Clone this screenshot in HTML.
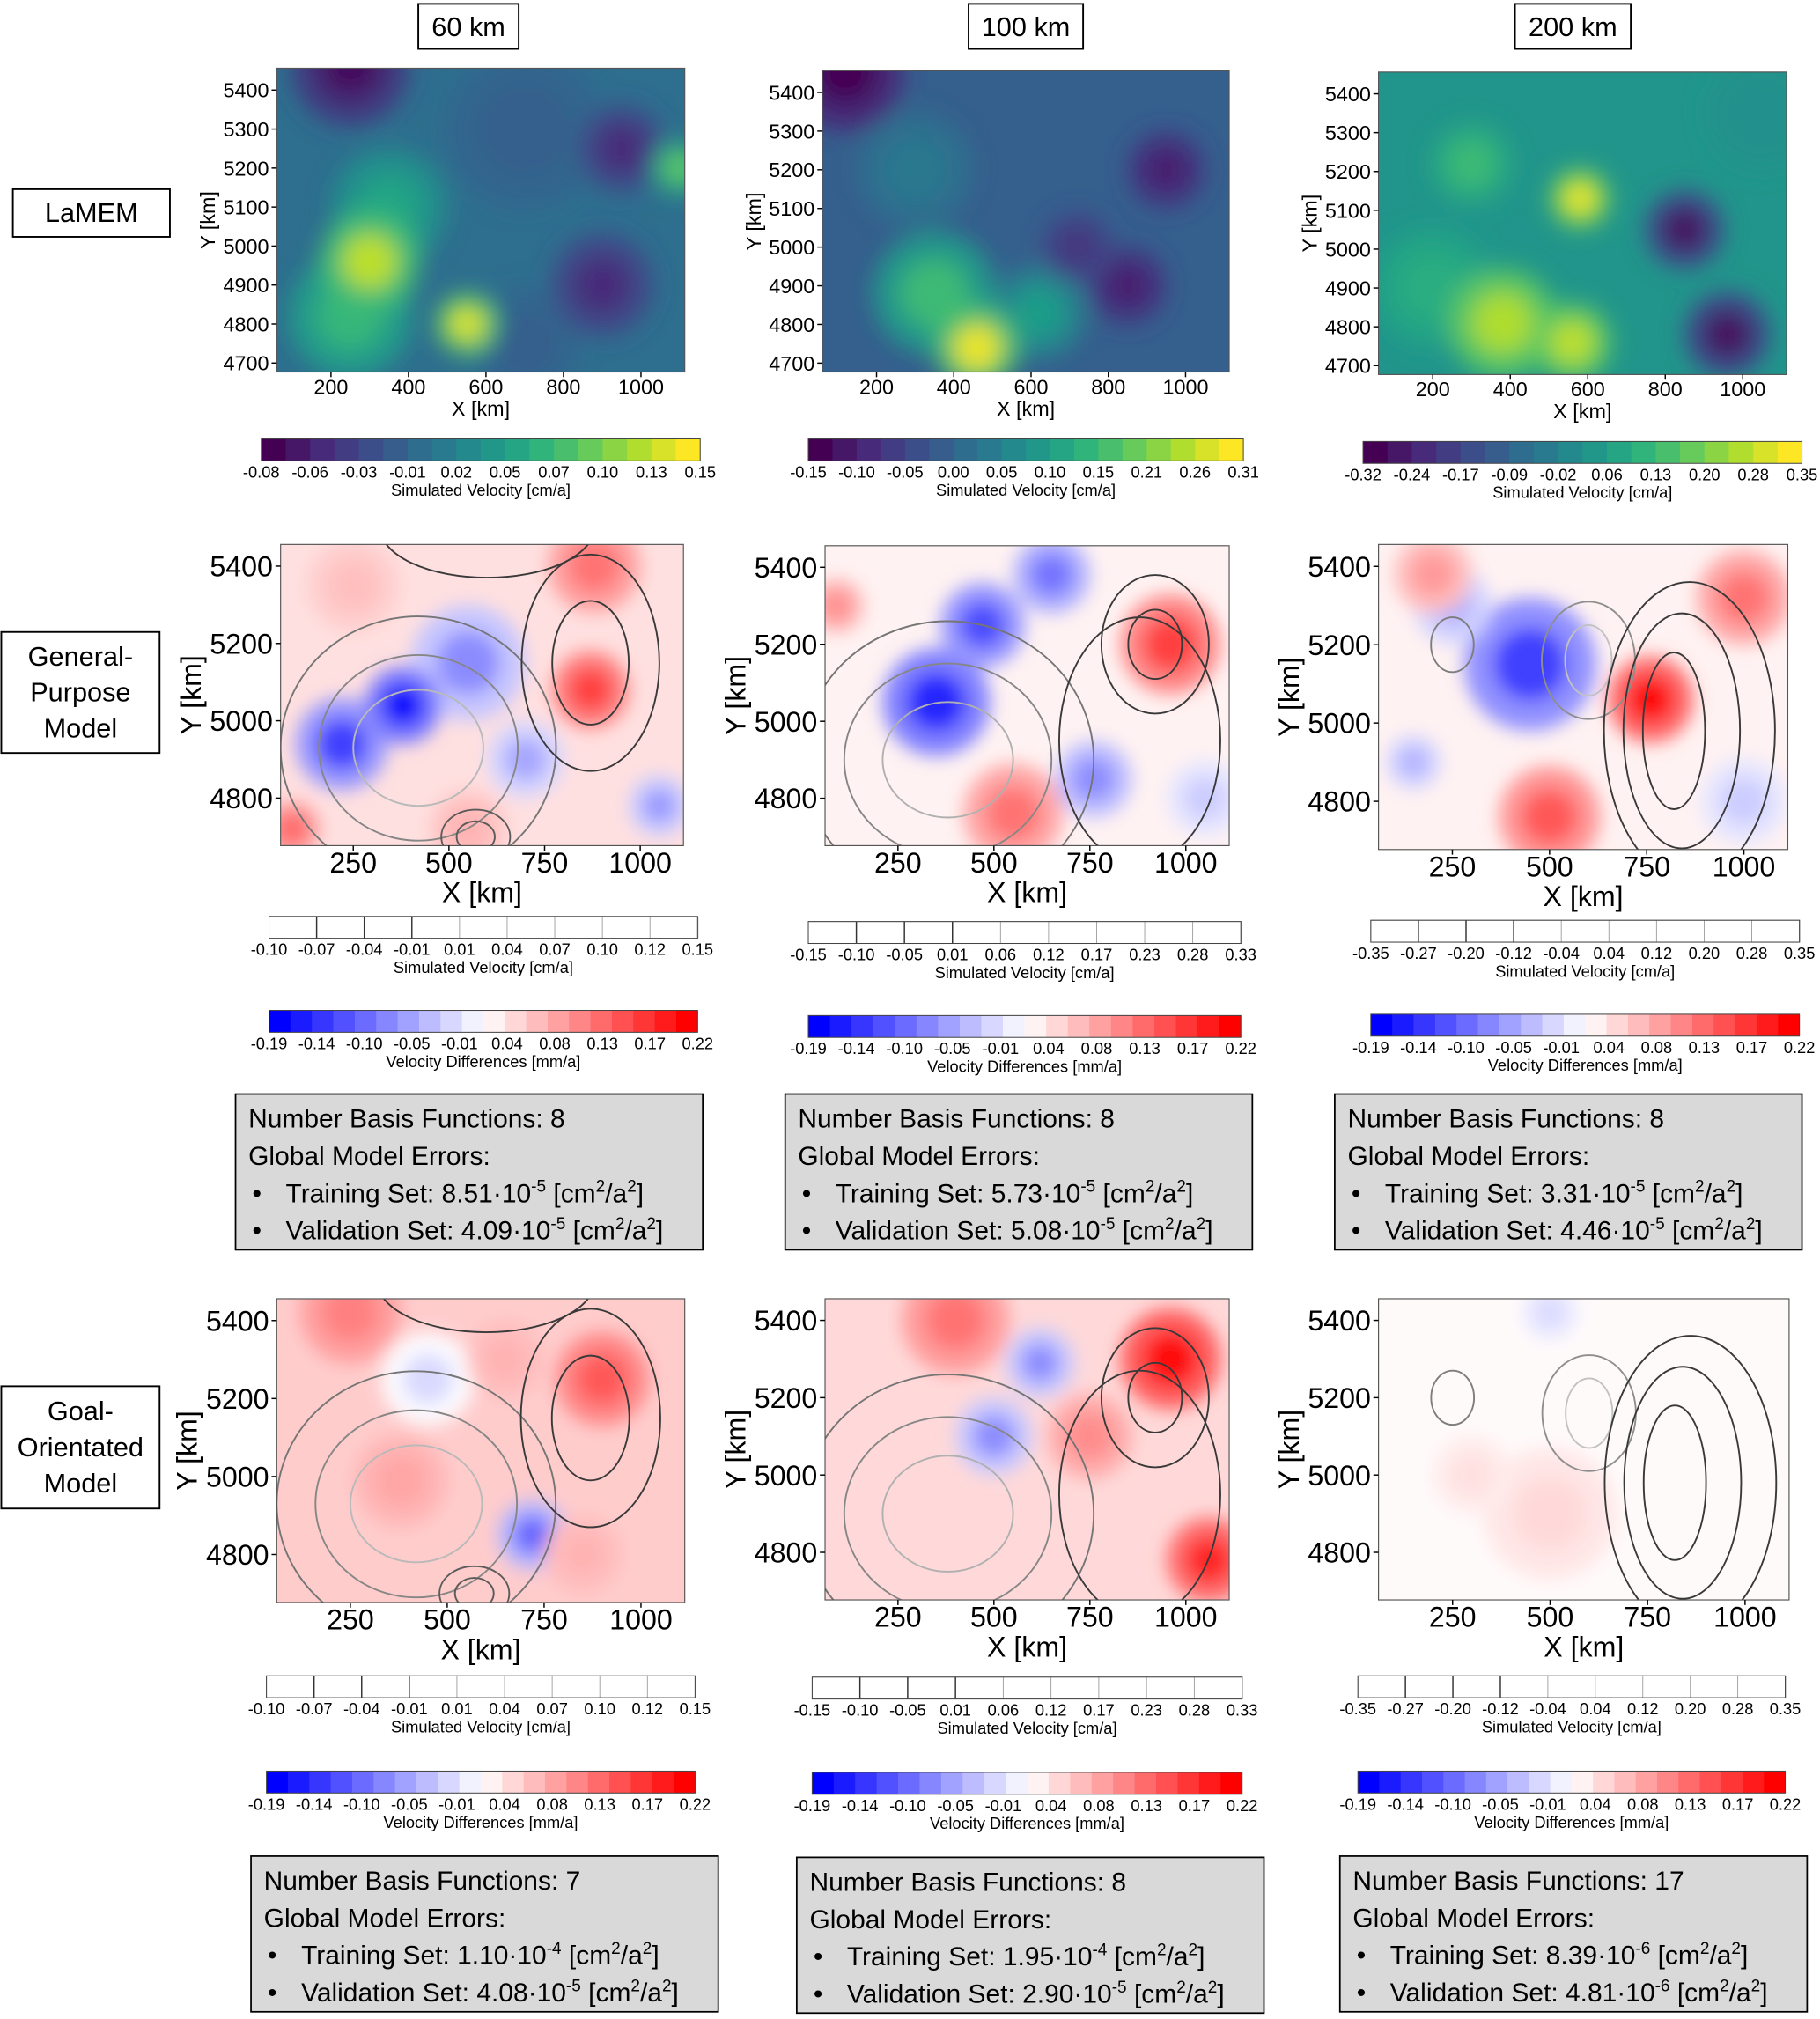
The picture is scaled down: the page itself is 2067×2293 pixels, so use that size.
<!DOCTYPE html>
<html><head><meta charset="utf-8"><style>
html,body{margin:0;padding:0;background:#fff}
svg{display:block;font-family:"Liberation Sans","DejaVu Sans",sans-serif}
</style></head><body>
<svg id="fig" xmlns="http://www.w3.org/2000/svg" width="2067" height="2293" viewBox="0 0 1414 1568.6">
<defs>
<filter id="blur1" x="-20%" y="-20%" width="140%" height="140%"><feGaussianBlur stdDeviation="9"/></filter>
<filter id="blur2" x="-20%" y="-20%" width="140%" height="140%"><feGaussianBlur stdDeviation="7"/></filter>
</defs>
<rect width="1414" height="1568.6" fill="#fff"/>
</svg>
<script>
// ---------- data ----------
const colTitles = ["60 km","100 km","200 km"];
const rowLabels = [["LaMEM"],["General-","Purpose","Model"],["Goal-","Orientated","Model"]];
const xTicksSmall = [200,400,600,800,1000];
const yTicksSmall = [4700,4800,4900,5000,5100,5200,5300,5400];
const xTicksBig = [250,500,750,1000];
const yTicksBig = [4800,5000,5200,5400];
const simLabels = [
 ["-0.08","-0.06","-0.03","-0.01","0.02","0.05","0.07","0.10","0.13","0.15"],
 ["-0.15","-0.10","-0.05","0.00","0.05","0.10","0.15","0.21","0.26","0.31"],
 ["-0.32","-0.24","-0.17","-0.09","-0.02","0.06","0.13","0.20","0.28","0.35"]];
const simLabels2 = [
 ["-0.10","-0.07","-0.04","-0.01","0.01","0.04","0.07","0.10","0.12","0.15"],
 ["-0.15","-0.10","-0.05","0.01","0.06","0.12","0.17","0.23","0.28","0.33"],
 ["-0.35","-0.27","-0.20","-0.12","-0.04","0.04","0.12","0.20","0.28","0.35"]];
const diffLabels = ["-0.19","-0.14","-0.10","-0.05","-0.01","0.04","0.08","0.13","0.17","0.22"];
const nBasis = [[8,8,8],[7,8,17]];
const trainErr = [["8.51","-5"],["5.73","-5"],["3.31","-5"],["1.10","-4"],["1.95","-4"],["8.39","-6"]];
const validErr = [["4.09","-5"],["5.08","-5"],["4.46","-5"],["4.08","-5"],["2.90","-5"],["4.81","-6"]];
// field blobs: [x km, y km, radius km, value]
const lamemBase = [0.36,0.3,0.52];
const lamemBlobs = [
 [[700,5300,200,0.3],[700,4750,140,0.3],[250,4820,160,0.66],[350,5100,150,0.58],[300,4960,130,0.9],[550,4800,80,0.95],[900,4900,130,0.12],[950,5250,110,0.12],[250,5460,150,0.03],[1100,5200,70,0.75]],
 [[300,5200,150,0.4],[350,4880,160,0.68],[620,4830,120,0.55],[460,4740,110,0.97],[950,5200,100,0.08],[850,4900,100,0.08],[120,5450,150,0.0],[720,5000,90,0.15]],
 [[200,4900,150,0.62],[1050,5350,140,0.5],[300,5220,100,0.68],[380,4810,140,0.88],[560,4760,100,0.9],[580,5130,75,0.97],[850,5050,100,0.03],[960,4780,110,0.03]]];
const diffBase = [0.12,0.05,0.05,0.2,0.15,0.02];
const diffBlobs = [
 [[550,5150,150,-0.45],[250,5350,120,0.25],[550,4720,100,0.3],[220,4940,120,-0.75],[380,5040,100,-0.95],[870,5080,100,0.75],[880,5400,120,0.55],[90,4720,70,0.6],[700,4900,100,-0.35],[1050,4780,80,-0.4]],
 [[350,5050,140,-0.85],[470,5250,110,-0.7],[650,5380,100,-0.55],[960,5200,130,0.75],[550,4760,130,0.55],[90,5300,70,0.45],[760,4850,100,-0.45],[1050,4800,100,-0.2]],
 [[450,5150,170,-0.75],[250,5300,100,-0.3],[760,5060,110,0.95],[1000,5320,120,0.55],[500,4760,130,0.65],[200,5380,100,0.4],[1000,4800,110,-0.2],[150,4900,70,-0.3]],
 [[450,5250,120,-0.15],[380,4990,120,0.35],[900,5250,120,0.65],[250,5420,130,0.5],[720,4850,90,-0.6],[850,4800,100,0.3],[650,5300,100,0.3]],
 [[300,4780,140,0.15],[750,5100,110,0.45],[960,5300,130,0.95],[1060,4780,110,0.85],[400,5400,140,0.55],[500,5100,100,-0.45],[620,5290,90,-0.45]],
 [[500,4900,170,0.15],[500,5420,70,-0.15],[300,5000,100,0.12]]];
// contour rings: [x km, y km, rx km, ry km, shade 0=black 1=light]
const contours = [
 [[420,4930,170,150,0.85],[420,4930,260,240,0.55],[420,4930,360,340,0.45],[600,5500,280,130,0.1],[870,5150,100,160,0.1],[870,5150,180,280,0.1],[570,4700,50,40,0.3],[570,4700,90,70,0.3]],
 [[380,4900,170,150,0.8],[380,4900,270,250,0.55],[380,4900,380,360,0.45],[920,5200,70,90,0.1],[920,5200,140,180,0.1],[880,4950,210,320,0.1]],
 [[600,5160,60,90,0.9],[600,5160,120,150,0.6],[250,5200,55,70,0.5],[820,4980,80,200,0.1],[840,4980,150,300,0.1],[860,4980,220,380,0.1]],
 [[420,4930,170,150,0.85],[420,4930,260,240,0.55],[420,4930,360,340,0.45],[600,5500,280,130,0.1],[870,5150,100,160,0.1],[870,5150,180,280,0.1],[570,4700,50,40,0.3],[570,4700,90,70,0.3]],
 [[380,4900,170,150,0.8],[380,4900,270,250,0.55],[380,4900,380,360,0.45],[920,5200,70,90,0.1],[920,5200,140,180,0.1],[880,4950,210,320,0.1]],
 [[600,5160,60,90,0.9],[600,5160,120,150,0.6],[250,5200,55,70,0.5],[820,4980,80,200,0.1],[840,4980,150,300,0.1],[860,4980,220,380,0.1]]];

// ---------- layout ----------
const svg = document.getElementById('fig');
const NS = "http://www.w3.org/2000/svg";
function mk(tag, attrs, parent){const e=document.createElementNS(NS,tag);for(const k in attrs)e.setAttribute(k,attrs[k]);(parent||svg).appendChild(e);return e;}
function txt(x,y,s,size,anchor,parent,extra){const t=mk('text',Object.assign({x:x,y:y,'font-size':size,'text-anchor':anchor||'middle',fill:'#000'},extra||{}),parent);t.textContent=s;return t;}

const viridisStops=[[68,1,84],[72,40,120],[62,74,137],[49,104,142],[38,130,142],[31,158,137],[53,183,121],[110,206,88],[181,222,43],[253,231,37]];
function viridis(v){v=Math.max(0,Math.min(1,v));const p=v*(viridisStops.length-1);const i=Math.min(Math.floor(p),viridisStops.length-2);const f=p-i;const a=viridisStops[i],b=viridisStops[i+1];return `rgb(${Math.round(a[0]+(b[0]-a[0])*f)},${Math.round(a[1]+(b[1]-a[1])*f)},${Math.round(a[2]+(b[2]-a[2])*f)})`;}
function bwr(v){v=Math.max(-1,Math.min(1,v));if(v<0){const f=1+v;return `rgb(${Math.round(255*f)},${Math.round(255*f)},255)`;}const f=1-v;return `rgb(255,${Math.round(255*f)},${Math.round(255*f)})`;}

const colX = [[215,532],[639,955],[1071,1388]];
const row1Y = [[53,289],[55,289],[56,291]];
const row2 = [[218,531,423,657],[641,955,424,657],[1071,1389,423,660]];
const row3 = [[215,532,1009,1245],[641,955,1009,1243],[1071,1390,1009,1243]];
const xDom=[60,1113], yDom=[4677,5456];

colTitles.forEach((t,i)=>{
 const cx=[364,797,1222][i], w=[78,89,90][i];
 const g=mk('g',{}); 
 mk('rect',{x:cx-w/2,y:3,width:w,height:35,fill:'#fff',stroke:'#000','stroke-width':1.3},g);
 txt(cx,28,t,21,'middle',g);
});
[[10,147,122,37],[1,491,123,94],[1,1077,123,95]].forEach((r,i)=>{
 const g=mk('g',{}); 
 mk('rect',{x:r[0],y:r[1],width:r[2],height:r[3],fill:'#fff',stroke:'#000','stroke-width':1.3},g);
 const lines=rowLabels[i]; const lh=28; const y0=r[1]+r[3]/2-(lines.length-1)*lh/2+7;
 lines.forEach((l,j)=>txt(r[0]+r[2]/2,y0+j*lh,l,21,'middle',g));
});

let clipId=0;
function panel(name,x0,x1,y0,y1,base,blobs,colorFn,ring,big){
 const g=mk('g',{});
 const sx=v=>x0+(v-xDom[0])/(xDom[1]-xDom[0])*(x1-x0);
 const sy=v=>y1-(v-yDom[0])/(yDom[1]-yDom[0])*(y1-y0);
 const kx=(x1-x0)/(xDom[1]-xDom[0]), ky=(y1-y0)/(yDom[1]-yDom[0]);
 const cid='clip'+(clipId++);
 const cp=mk('clipPath',{id:cid},g); mk('rect',{x:x0,y:y0,width:x1-x0,height:y1-y0},cp);
 const inner=mk('g',{'clip-path':`url(#${cid})`},g);
 mk('rect',{x:x0,y:y0,width:x1-x0,height:y1-y0,fill:colorFn(base)},inner);
 const bg=mk('g',{filter:big?'url(#blur2)':'url(#blur1)'},inner);
 blobs.forEach(b=>{
  const e=mk('ellipse',{cx:sx(b[0]),cy:sy(b[1]),rx:b[2]*kx,ry:b[2]*ky,fill:colorFn(base+(b[3]-base)*0.6)},bg);
  
  const e2=mk('ellipse',{cx:sx(b[0]),cy:sy(b[1]),rx:b[2]*kx*0.55,ry:b[2]*ky*0.55,fill:colorFn(b[3])},bg);
  
 });
 if(ring){ring.forEach(c=>{const s=Math.round(40+c[4]*170);
  const e=mk('ellipse',{cx:sx(c[0]),cy:sy(c[1]),rx:c[2]*kx,ry:c[3]*ky,fill:'none',stroke:`rgb(${s},${s},${s})`,'stroke-width':1.3},inner);
  });}
 mk('rect',{x:x0,y:y0,width:x1-x0,height:y1-y0,fill:'none',stroke:'#555','stroke-width':0.8},g);
 const fs=big?22:16, xt=big?xTicksBig:xTicksSmall, yt=big?yTicksBig:yTicksSmall;
 xt.forEach(v=>{mk('line',{x1:sx(v),x2:sx(v),y1:y1,y2:y1+4,stroke:'#000'},g);txt(sx(v),y1+(big?21:17),String(v),fs,'middle',g);});
 yt.forEach(v=>{mk('line',{x1:x0-4,x2:x0,y1:sy(v),y2:sy(v),stroke:'#000'},g);txt(x0-6,sy(v)+fs*0.36,String(v),fs,'end',g);});
 const xl=txt((x0+x1)/2,y1+(big?44:34),'X [km]',fs,'middle',g);
 const yx=x0-(big?62:48), yy=(y0+y1)/2;
 const yl=txt(yx,yy,'Y [km]',fs,'middle',g,{transform:`rotate(-90 ${yx} ${yy})`});
}

function colorbar(name,x0,x1,y0,h,n,colorFn,labels,title,outline){
 const g=mk('g',{});
 const w=(x1-x0)/n;
 for(let i=0;i<n;i++){
  mk('rect',{x:x0+i*w,y:y0,width:w+0.3,height:h,fill:outline?'#fff':colorFn(i/(n-1)),stroke:outline?'#999':'none','stroke-width':0.6},g);
 }
 if(outline){for(let i=1;i<4;i++)mk('line',{x1:x0+i*(x1-x0)/9,x2:x0+i*(x1-x0)/9,y1:y0,y2:y0+h,stroke:'#333','stroke-width':1},g);}
 mk('rect',{x:x0,y:y0,width:x1-x0,height:h,fill:'none',stroke:'#444','stroke-width':0.7},g);
 labels.forEach((l,i)=>{const x=x0+i*(x1-x0)/(labels.length-1);txt(x,y0+h+13,l,12.5,'middle',g);});
 txt((x0+x1)/2,y0+h+27,title,12.5,'middle',g);
}

for(let c=0;c<3;c++){
 panel('lamem-panel-'+(c+1),colX[c][0],colX[c][1],row1Y[c][0],row1Y[c][1],lamemBase[c],lamemBlobs[c],viridis,null,false);
}
const cb1=[[203,544,341],[628,966,341],[1059,1400,343]];
cb1.forEach((b,c)=>colorbar('lamem-colorbar-'+(c+1),b[0],b[1],b[2],17,18,viridis,simLabels[c],'Simulated Velocity [cm/a]',false));

const simCB=[[[209,542,712],[628,964,716],[1065,1398,715]],[[207,540,1302],[631,965,1303],[1055,1387,1302]]];
const diffCB=[[[209,542,785],[628,964,789],[1065,1398,788]],[[207,540,1376],[631,965,1377],[1055,1387,1376]]];
const infoB=[[[183,546,850],[610,973,850],[1037,1400,850]],[[195,558,1442],[619,982,1443],[1041,1404,1442]]];
[row2,row3].forEach((rows,ri)=>{
 rows.forEach((p,c)=>{
  const k=ri*3+c;
  panel((ri?'goal':'general')+'-model-panel-'+(c+1),p[0],p[1],p[2],p[3],diffBase[k],diffBlobs[k],v=>bwr(v),contours[k],true);
  const s=simCB[ri][c]; colorbar((ri?'goal':'general')+'-sim-colorbar-'+(c+1),s[0],s[1],s[2],17,9,null,simLabels2[c],'Simulated Velocity [cm/a]',true);
  const d=diffCB[ri][c]; colorbar((ri?'goal':'general')+'-diff-colorbar-'+(c+1),d[0],d[1],d[2],17,20,v=>bwr(v*2-1),diffLabels,'Velocity Differences [mm/a]',false);
  const b=infoB[ri][c];
  const g=mk('g',{});
  mk('rect',{x:b[0],y:b[2],width:b[1]-b[0],height:121,fill:'#d9d9d9',stroke:'#000','stroke-width':1.2},g);
  const fs=20.5, lx=b[0]+10;
  txt(lx,b[2]+26,'Number Basis Functions: '+nBasis[ri][c],fs,'start',g);
  txt(lx,b[2]+55,'Global Model Errors:',fs,'start',g);
  const ent=[['Training Set: ',trainErr[k]],['Validation Set: ',validErr[k]]];
  ent.forEach((e,j)=>{
   const y=b[2]+84+j*29;
   txt(lx+3,y,'•',fs,'start',g);
   const t=mk('text',{x:lx+29,y:y,'font-size':fs,fill:'#000'},g);
   const a=mk('tspan',{},t);a.textContent=e[0]+e[1][0]+'·10';
   const sp=mk('tspan',{dy:-8,'font-size':13},t);sp.textContent=e[1][1];
   const r1=mk('tspan',{dy:8},t);r1.textContent=' [cm';
   const s2=mk('tspan',{dy:-8,'font-size':13},t);s2.textContent='2';
   const r2=mk('tspan',{dy:8},t);r2.textContent='/a';
   const s3=mk('tspan',{dy:-8,'font-size':13},t);s3.textContent='2';
   const r3=mk('tspan',{dy:8},t);r3.textContent=']';
  });
 });
});
</script>
</body></html>
